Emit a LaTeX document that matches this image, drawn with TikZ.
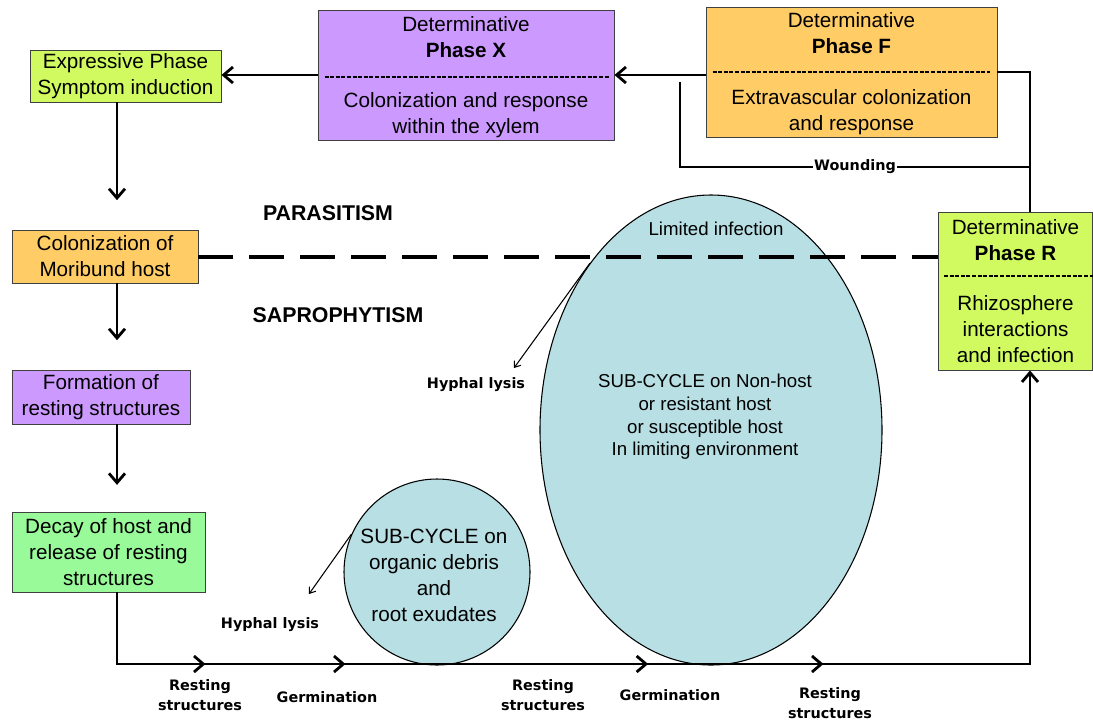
\documentclass[tikz,border=0pt]{standalone}
\usepackage{fontspec}
\setmainfont{Liberation Sans}
\newfontfamily\tahfont{DejaVu Sans}
\usetikzlibrary{arrows.meta,shapes.geometric,calc,decorations.markings}
\definecolor{limegr}{RGB}{208,250,96}
\definecolor{lilac}{RGB}{204,153,255}
\definecolor{orng}{RGB}{255,204,102}
\definecolor{mintgr}{RGB}{153,250,153}
\definecolor{paleblue}{RGB}{183,223,228}
\newcommand{\bxfont}{\fontsize{15.5}{19.5}\selectfont}
\newcommand{\elfont}{\fontsize{14}{17}\selectfont}
\newcommand{\lbfont}{\tahfont\bfseries\fontsize{10.8}{15}\selectfont}
\newcommand{\bigfont}{\bfseries\fontsize{16}{19}\selectfont}
\begin{document}
\begin{tikzpicture}[x=0.75pt,y=-0.75pt,
  box/.style={draw=black!75,line width=0.7pt,inner sep=0pt,align=center,font=\bxfont},
  txt/.style={inner sep=0pt,align=center,font=\bxfont},
  eltxt/.style={inner sep=0pt,align=center,font=\elfont},
  lbl/.style={inner sep=1pt,align=center,font=\lbfont},
  ell/.style={ellipse,draw=black,line width=0.8pt,fill=paleblue,inner sep=0pt},
  tipa/.style={-{Straight Barb[length=7pt,width=12pt]}},
  conn/.style={line width=2.1pt,line join=miter},
  wline/.style={line width=1.3pt},
  thinarr/.style={line width=0.8pt,-{Straight Barb[length=4pt,width=6pt]}},
  sepline/.style={line width=1.8pt,dash pattern=on 3pt off 1.2pt},
  bigdash/.style={line width=3pt,dash pattern=on 26.25pt off 12pt}]
\useasboundingbox (0,0) rectangle (1093,722);
% ellipses
\node[ell,minimum width=256.5pt,minimum height=352.5pt] (E2) at (711,430) {};
\node[ell,minimum width=139.5pt,minimum height=139.5pt] (E1) at (437,572) {};
\node[eltxt] (lim) at (716,229) {Limited infection};
\node[eltxt] (e2t) at (705,417) {SUB-CYCLE on Non-host\\or resistant host\\or susceptible host\\In limiting environment};
\node[txt] (e1t) at (434,575) {SUB-CYCLE on\\organic debris\\and\\root exudates};
% boxes
\node[box,fill=limegr,minimum width=143.25pt,minimum height=39pt] (Expr) at (125.5,76) {Expressive Phase\\Symptom induction};
\node[box,fill=lilac,minimum width=222pt,minimum height=97.5pt] (X) at (466,75) {};
\node[box,fill=orng,minimum width=218.25pt,minimum height=97.5pt] (F) at (851.5,72) {};
\node[box,fill=orng,minimum width=139.5pt,minimum height=39.75pt] (Mor) at (105,256.5) {Colonization of\\Moribund host};
\node[box,fill=lilac,minimum width=133.5pt,minimum height=40.5pt] (Form) at (101,397) {Formation of\\resting structures};
\node[box,fill=mintgr,minimum width=144.75pt,minimum height=60pt] (Decay) at (108.5,552) {Decay of host and\\release of resting\\structures};
\node[box,fill=limegr,minimum width=115.5pt,minimum height=118.5pt] (R) at (1015.5,291) {};
% phase box texts
\node[txt] (xt) at (X.center |- 0,37) {Determinative\\\textbf{Phase X}};
\node[txt] (xb) at (X.center |- 0,115) {Colonization and response\\within the xylem};
\draw[sepline] ($(X.west |- 0,77)+(7,0)$) -- ($(X.east |- 0,77)+(-5,0)$);
\node[txt] (ft) at (F.center |- 0,33) {Determinative\\\textbf{Phase F}};
\node[txt] (fb) at (F.center |- 0,112) {Extravascular colonization\\and response};
\draw[sepline] ($(F.west |- 0,72)+(7,0)$) -- ($(F.east |- 0,72)+(-7,0)$);
\node[txt] (rt) at (R.center |- 0,240) {Determinative\\\textbf{Phase R}};
\node[txt] (rb) at (R.center |- 0,329) {Rhizosphere\\interactions\\and infection};
\draw[sepline] ($(R.west |- 0,276)+(6,0)$) -- (R.east |- 0,276);
% region labels
\node[inner sep=0pt,font=\bigfont] (para) at (328,213) {PARASITISM};
\node[inner sep=0pt,font=\bigfont] (sapro) at (338,315) {SAPROPHYTISM};
% dashed boundary
\draw[bigdash] (Mor.east) -- (R.west |- Mor.east);
% top connectors
\coordinate (br) at (1030,664);
\coordinate (wtop) at (680,82);
\coordinate (wjoin) at (1030,167);
\draw[conn,tipa] (F.west |- X.east) -- (X.east);
\draw[conn,tipa] (X.west) -- (Expr.east |- X.west);
\draw[conn] (F.east) -| (R.north -| br);
\draw[wline] (wtop) |- node[pos=0.75,lbl,fill=white] (wound) {Wounding} (wjoin);
% left column arrows
\draw[conn,tipa,shorten >=22pt] (Expr.south -| 117,0) -- (Mor.north -| 117,0);
\draw[conn,tipa,shorten >=22pt] (Mor.south -| 117,0) -- (Form.north -| 117,0);
\draw[conn,tipa,shorten >=20pt] (Form.south -| 117,0) -- (Decay.north -| 117,0);
% bottom cycle
\draw[conn,tipa,postaction={decorate},decoration={markings,
   mark=at position 120pt with {\arrow{Straight Barb[length=7pt,width=12pt]}},
   mark=at position 225pt with {\arrow{Straight Barb[length=7pt,width=12pt]}},
   mark=at position 452pt with {\arrow{Straight Barb[length=7pt,width=12pt]}},
   mark=at position 583.5pt with {\arrow{Straight Barb[length=7pt,width=12pt]}}}]
   (Decay.south -| 117,0) |- (br) -- (R.south -| br);
% hyphal lysis
\node[lbl] (hl1) at (476,385) {Hyphal lysis};
\node[lbl] (hl2) at (270,625) {Hyphal lysis};
\coordinate (h1tip) at (514,368);
\coordinate (h2tip) at (309,594);
\draw[thinarr] (E2.126) -- (h1tip);
\draw[thinarr] (E1.156) -- (h2tip);
% bottom labels
\node[lbl] (rs1) at (200,695) {Resting\\structures};
\node[lbl] (g1) at (327,697) {Germination};
\node[lbl] (rs2) at (543,695) {Resting\\structures};
\node[lbl] (g2) at (670,695) {Germination};
\node[lbl] (rs3) at (830,703) {Resting\\structures};
\end{tikzpicture}
\end{document}
